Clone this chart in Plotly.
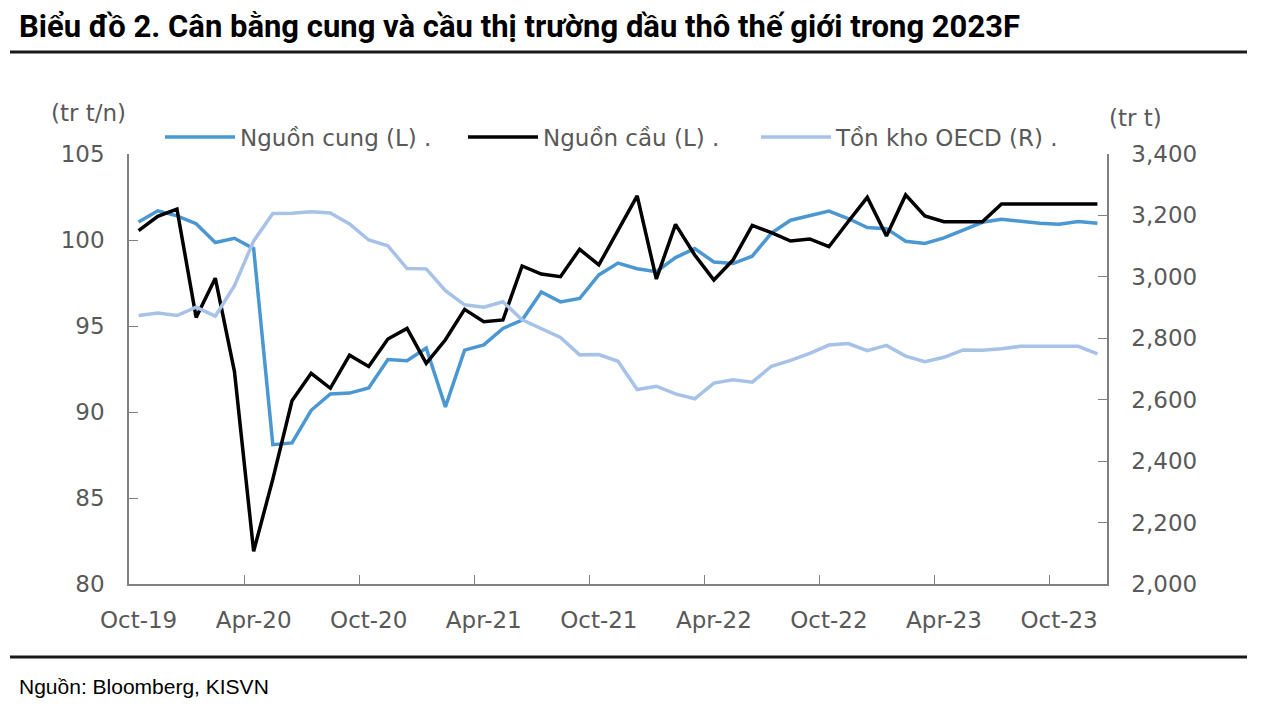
import plotly.graph_objects as go

months = ["Oct-19","Nov-19","Dec-19","Jan-20","Feb-20","Mar-20","Apr-20","May-20","Jun-20","Jul-20","Aug-20","Sep-20",
          "Oct-20","Nov-20","Dec-20","Jan-21","Feb-21","Mar-21","Apr-21","May-21","Jun-21","Jul-21","Aug-21","Sep-21",
          "Oct-21","Nov-21","Dec-21","Jan-22","Feb-22","Mar-22","Apr-22","May-22","Jun-22","Jul-22","Aug-22","Sep-22",
          "Oct-22","Nov-22","Dec-22","Jan-23","Feb-23","Mar-23","Apr-23","May-23","Jun-23","Jul-23","Aug-23","Sep-23",
          "Oct-23","Nov-23","Dec-23"]

supply = [101.05, 101.7, 101.4, 100.95, 99.85, 100.1, 99.5, 88.1, 88.2, 90.1, 91.05, 91.1,
          91.4, 93.05, 92.98, 93.72, 90.3, 93.6, 93.9, 94.86, 95.35, 96.98, 96.4, 96.6,
          97.97, 98.66, 98.33, 98.16, 98.98, 99.5, 98.72, 98.63, 99.06, 100.4, 101.15, 101.4,
          101.68, 101.25, 100.72, 100.66, 99.93, 99.8, 100.12, 100.58, 101.03, 101.2, 101.08, 100.98,
          100.92, 101.08, 100.98]

demand = [100.55, 101.38, 101.8, 95.5, 97.78, 92.35, 81.9, 86.1, 90.65, 92.25, 91.38, 93.3,
          92.65, 94.24, 94.86, 92.83, 94.2, 95.97, 95.25, 95.35, 98.49, 98.02, 97.87, 99.46,
          98.55, 100.58, 102.56, 97.73, 100.91, 99.13, 97.67, 98.84, 100.85, 100.43, 99.94, 100.06,
          99.61, 101.06, 102.48, 100.23, 102.62, 101.4, 101.06, 101.06, 101.06, 102.1, 102.1, 102.1,
          102.1, 102.1, 102.1]

oecd = [2874, 2882, 2874, 2901, 2872, 2971, 3117, 3206, 3207, 3212, 3208, 3172,
        3120, 3101, 3027, 3026, 2955, 2909, 2901, 2919, 2860, 2831, 2803, 2746,
        2747, 2725, 2633, 2644, 2619, 2603, 2654, 2665, 2657, 2709, 2728, 2751,
        2778, 2783, 2760, 2777, 2742, 2724, 2738, 2762, 2761, 2766, 2774, 2774,
        2775, 2774, 2749]

names = ["Nguồn cung (L) .", "Nguồn cầu (L) .", "Tồn kho OECD (R) ."]
colors = ["#4a97d1", "#000000", "#a7c2e7"]
legend_widths = [218, 208, 260]

TXT = "#595959"
AX = "#808080"
FONT = "DejaVu Sans"

# page body has an 8px margin: figure is placed at (8, 8)
OFF = 8
W, H = 1262 - OFF, 706 - OFF
L, R, T, B = 129 - OFF, 1107 - OFF, 154 - OFF, 584 - OFF
PW, PH = R - L, B - T


def px(x):
    return (x - OFF - L) / PW


def py(y):
    return (B - (y - OFF)) / PH


fig = go.Figure()
fig.add_trace(go.Scatter(x=months, y=supply, name=names[0], mode="lines", legendwidth=legend_widths[0],
                         line=dict(color=colors[0], width=3.5), yaxis="y"))
fig.add_trace(go.Scatter(x=months, y=demand, name=names[1], mode="lines", legendwidth=legend_widths[1],
                         line=dict(color=colors[1], width=3.5), yaxis="y"))
fig.add_trace(go.Scatter(x=months, y=oecd, name=names[2], mode="lines", legendwidth=legend_widths[2],
                         line=dict(color=colors[2], width=3.5), yaxis="y2"))

fig.update_layout(
    width=W, height=H,
    margin=dict(l=L, r=W - R, t=T, b=H - B),
    paper_bgcolor="white", plot_bgcolor="white",
    font=dict(family=FONT, size=23, color=TXT),
    showlegend=True,
    legend=dict(orientation="h", x=px(160), xanchor="left", y=py(137), yanchor="middle",
                font=dict(family=FONT, size=23, color=TXT),
                itemwidth=70,
                bgcolor="rgba(0,0,0,0)", tracegroupgap=0),
    xaxis=dict(type="category", categoryorder="array", categoryarray=months,
               tickmode="linear", tick0=0, dtick=6, tickson="boundaries", tickangle=0,
               ticks="inside", ticklen=9, tickcolor=AX, tickwidth=1.2,
               showline=True, linecolor=AX, linewidth=1.5, showgrid=False,
               range=[-0.5, len(months) - 0.5],
               tickfont=dict(family=FONT, size=23, color=TXT), ticklabelstandoff=15),
    yaxis=dict(range=[80, 105], dtick=5, tick0=80, ticks="inside", ticklen=9,
               tickcolor=AX, tickwidth=1.2, showline=True, linecolor=AX, linewidth=1.5,
               showgrid=False, zeroline=False,
               tickfont=dict(family=FONT, size=23, color=TXT), ticklabelstandoff=18),
    yaxis2=dict(range=[2000, 3400], dtick=200, tick0=2000, overlaying="y", side="right",
                ticks="inside", ticklen=9, tickcolor=AX, tickwidth=1.2, showline=True,
                linecolor=AX, linewidth=1.5, showgrid=False, zeroline=False,
                tickformat=",", tickfont=dict(family=FONT, size=23, color=TXT),
                ticklabelstandoff=18),
    shapes=[
        dict(type="line", xref="paper", yref="paper", x0=px(10), x1=px(1247),
             y0=py(52), y1=py(52), line=dict(color="#1a1a1a", width=3)),
        dict(type="line", xref="paper", yref="paper", x0=px(10), x1=px(1247),
             y0=py(657), y1=py(657), line=dict(color="#1a1a1a", width=3)),
    ],
    annotations=[
        dict(text="<b>Biểu đồ 2. Cân bằng cung và cầu thị trường dầu thô thế giới trong 2023F</b>",
             xref="paper", yref="paper", x=px(17), y=py(26),
             xanchor="left", yanchor="middle", showarrow=False,
             font=dict(family="Roboto", size=31, color="#000000", weight=900)),
        dict(text="(tr t/n)", xref="paper", yref="paper", x=px(88), y=py(113),
             xanchor="center", yanchor="middle", showarrow=False,
             font=dict(family=FONT, size=23, color=TXT)),
        dict(text="(tr t)", xref="paper", yref="paper", x=px(1135), y=py(118),
             xanchor="center", yanchor="middle", showarrow=False,
             font=dict(family=FONT, size=23, color=TXT)),
        dict(text="Nguồn: Bloomberg, KISVN", xref="paper", yref="paper", x=px(17),
             y=py(686), xanchor="left", yanchor="middle", showarrow=False,
             font=dict(family="Liberation Sans", size=21, color="#000000")),
    ],
)

fig.write_html("out.html")
